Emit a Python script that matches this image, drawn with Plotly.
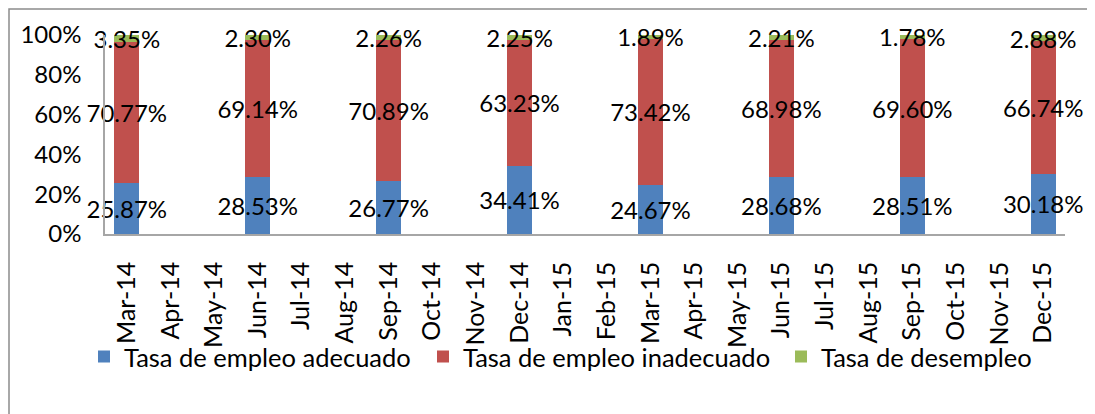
import plotly.graph_objects as go

months = ["Mar-14", "Apr-14", "May-14", "Jun-14", "Jul-14", "Aug-14", "Sep-14",
          "Oct-14", "Nov-14", "Dec-14", "Jan-15", "Feb-15", "Mar-15", "Apr-15",
          "May-15", "Jun-15", "Jul-15", "Aug-15", "Sep-15", "Oct-15", "Nov-15",
          "Dec-15"]
quarters = ["Mar-14", "Jun-14", "Sep-14", "Dec-14", "Mar-15", "Jun-15", "Sep-15", "Dec-15"]
adecuado = [25.87, 28.53, 26.77, 34.41, 24.67, 28.68, 28.51, 30.18]
inadecuado = [70.77, 69.14, 70.89, 63.23, 73.42, 68.98, 69.60, 66.74]
desempleo = [3.35, 2.30, 2.26, 2.25, 1.89, 2.21, 1.78, 2.88]

series = [
    ("Tasa de empleo adecuado", adecuado, "#4F81BD", "legend"),
    ("Tasa de empleo inadecuado", inadecuado, "#C0504D", "legend2"),
    ("Tasa de desempleo", desempleo, "#9BBB59", "legend3"),
]

FONT = "Lato, Liberation Sans, sans-serif"

fig = go.Figure()
for name, vals, color, leg in series:
    fig.add_trace(go.Bar(
        x=quarters, y=vals, name=name, legend=leg,
        marker=dict(color=color, line=dict(width=0)),
        width=0.57,
        text=[f"{v:.2f}%" for v in vals],
        textposition="inside",
        insidetextanchor="middle",
        textangle=0,
        constraintext="none",
        textfont=dict(size=24, color="black", family=FONT),
        cliponaxis=False,
    ))

# page is rendered with an 8px body margin, margins below account for it
W, H = 1095, 414
ml, mr, mt, mb = 97, 38, 27, 188
pw, ph = W - ml - mr, H - mt - mb


def legend_at(px):
    # px = page x of the legend swatch
    return dict(orientation="h", x=(px - 14 - 105) / pw, y=-123 / ph,
                xanchor="left", yanchor="middle", bgcolor="rgba(0,0,0,0)",
                font=dict(size=25.5), itemwidth=30)


fig.update_layout(
    width=W, height=H,
    barmode="stack",
    plot_bgcolor="white", paper_bgcolor="white",
    margin=dict(l=ml, r=mr, t=mt, b=mb),
    font=dict(family=FONT, size=24, color="black"),
    uniformtext=dict(minsize=24, mode="show"),
    showlegend=True,
    legend=legend_at(98),
    legend2=legend_at(437),
    legend3=legend_at(795),
    xaxis=dict(type="category", categoryorder="array", categoryarray=months,
               range=[-0.5, len(months) - 0.5],
               tickangle=-90, showline=True, linecolor="#A6A6A6", linewidth=1.5,
               showgrid=False, ticks="", ticklabelstandoff=16, tickfont=dict(size=25)),
    yaxis=dict(range=[0, 100], tickvals=[0, 20, 40, 60, 80, 100],
               ticktext=["0%", "20%", "40%", "60%", "80%", "100%"],
               showline=True, linecolor="#A6A6A6", linewidth=1.5,
               showgrid=False, ticks="", zeroline=False, ticklabelstandoff=17,
               tickfont=dict(size=24)),
)

# outer chart frame
fig.add_shape(type="rect", xref="paper", yref="paper",
              x0=(1 - ml) / pw, x1=(1085 - ml) / pw,
              y0=-(mb + 20) / ph, y1=1 + (mt - 1) / ph,
              line=dict(color="#8C8C8C", width=1.5), fillcolor="rgba(0,0,0,0)",
              layer="below")

fig.write_html("out.html")
